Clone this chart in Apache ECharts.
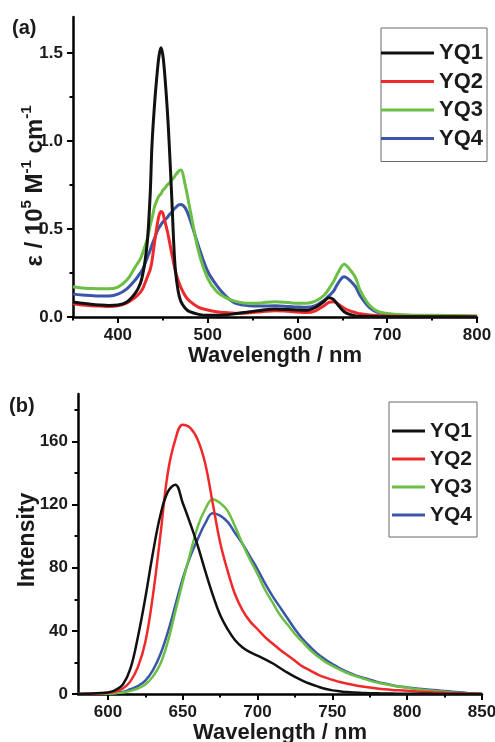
<!DOCTYPE html>
<html>
<head>
<meta charset="utf-8">
<script src="https://cdn.jsdelivr.net/npm/echarts@6/dist/echarts.min.js"></script>
<style>
html,body{margin:0;padding:0;background:#fff;}
#chart{width:495px;height:742px;}
</style>
</head>
<body>
<div id="chart"></div>
<script>
// ---------- data ----------
const seriesNames = ['YQ1', 'YQ2', 'YQ3', 'YQ4'];
const seriesColors = ['#111111', '#ee2a2a', '#6cbf45', '#3b55a8'];

// (a) absorption
const absWavelength = [350,360,370,380,390,400,410,420,425,428,430,433,436,438,441,444,446,448,450,452,455,457,460,462,464,467,470,475,480,490,500,510,520,530,540,550,560,575,590,600,610,620,630,635,640,645,652,660,665,670,680,690,700,720,750,800];
const absYQ1 = [0.085,0.078,0.072,0.068,0.066,0.068,0.085,0.14,0.19,0.25,0.31,0.44,0.70,0.98,1.22,1.40,1.49,1.53,1.49,1.39,1.18,1.00,0.68,0.44,0.27,0.15,0.09,0.05,0.03,0.015,0.01,0.01,0.012,0.018,0.025,0.032,0.038,0.045,0.042,0.04,0.038,0.055,0.09,0.11,0.10,0.07,0.03,0.012,0.006,0.004,0.003,0.002,0.002,0.001,0.001,0];
const absYQ2 = [0.075,0.068,0.064,0.062,0.060,0.064,0.08,0.115,0.14,0.165,0.19,0.23,0.27,0.32,0.43,0.53,0.58,0.60,0.59,0.55,0.49,0.44,0.36,0.31,0.26,0.21,0.17,0.12,0.09,0.055,0.04,0.03,0.025,0.022,0.022,0.025,0.03,0.036,0.032,0.028,0.025,0.035,0.065,0.083,0.087,0.075,0.05,0.032,0.025,0.018,0.012,0.008,0.005,0.003,0.002,0.001];
const absYQ3 = [0.172,0.165,0.162,0.160,0.160,0.17,0.21,0.29,0.33,0.37,0.40,0.45,0.52,0.56,0.63,0.67,0.69,0.70,0.72,0.73,0.75,0.76,0.78,0.79,0.805,0.825,0.835,0.75,0.62,0.37,0.22,0.145,0.11,0.09,0.08,0.078,0.08,0.087,0.082,0.078,0.078,0.09,0.125,0.16,0.20,0.25,0.30,0.26,0.22,0.15,0.068,0.03,0.02,0.012,0.01,0.005];
const absYQ4 = [0.13,0.125,0.122,0.12,0.12,0.13,0.16,0.215,0.25,0.275,0.30,0.34,0.38,0.41,0.45,0.49,0.51,0.525,0.54,0.55,0.565,0.58,0.595,0.61,0.62,0.635,0.64,0.62,0.56,0.40,0.26,0.18,0.12,0.08,0.068,0.062,0.062,0.064,0.06,0.057,0.055,0.065,0.097,0.12,0.145,0.19,0.229,0.20,0.17,0.12,0.055,0.025,0.015,0.01,0.008,0.004];

// (b) emission
const emWavelength = [580,585,590,595,600,605,610,615,620,625,630,635,640,645,650,655,660,665,670,675,680,685,690,695,700,705,710,715,720,725,730,735,740,745,750,755,760,765,770,775,780,785,790,795,800,805,810,815,820,825,830,835,840,845,850];
const emYQ1 = [0,0.1,0.3,0.6,1,2.5,6,16,36,61,89,113,128,132.5,121,108,94,78,63,50,41,34,29.5,26.5,24.3,22,19.5,16.5,13.5,10.8,8.5,6.5,4.8,3.3,2.3,1.7,1.2,0.9,0.7,0.5,0.4,0.3,0.25,0.2,0.15,0.12,0.1,0.08,0.06,0.05,0.04,0.03,0.02,0.01,0];
const emYQ2 = [0,0.1,0.2,0.4,0.8,1.5,3.5,8,17,33,62,100,140,161,170.5,168.5,161,146,121,96,78,63,53,46,41,36,32,28,24.5,21,17.5,15,12.5,10.5,9,7.6,6.5,5.6,4.8,4.1,3.5,3,2.6,2.3,2,1.7,1.4,1.2,1,0.8,0.6,0.4,0.3,0.15,0];
const emYQ3 = [0,0,0,0.1,0.2,0.5,1,2,3.5,6,11,19,33,52,71,89,106,117,123.4,121,116,106,95,85,76,66,58,50,44,38,33,28,24,20.5,17.8,15.5,13.3,11.5,10,8.5,7.3,6.3,5.4,4.6,3.9,3.3,2.7,2.2,1.8,1.4,1,0.7,0.4,0.2,0];
const emYQ4 = [0,0.05,0.1,0.2,0.3,0.7,1.3,3,5,8.5,15,25,39,56,73,87,98,108,114.5,113,109,102,95,87,79,70,62,55,48,41,35,30,25.5,22,19,16.2,14,12,10.5,9,7.7,6.6,5.6,4.8,4.2,3.6,3.1,2.7,2.3,1.9,1.5,1.1,0.7,0.35,0];

// tick values
const absMajorX = [400,500,600,700,800];
const absMinorX = [350,450,550,650,750];
const absMajorY = [0,0.5,1.0,1.5];
const absMinorY = [0.25,0.75,1.25];
const emMajorX = [600,650,700,750,800,850];
const emMinorX = [625,675,725,775,825];
const emMajorY = [0,40,80,120,160];
const emMinorY = [20,60,100,140,180];

// ---------- chart ----------
const FONT = '"Liberation Sans", Arial, Helvetica, sans-serif';
const TXT = '#1a1a1a';
const chart = echarts.init(document.getElementById('chart'), null, {renderer: 'canvas'});

function zip(xs, ys) { return xs.map((x, i) => [x, ys[i]]); }

function majorAxis(gridIndex, min, max, major, labelFmt, extra) {
  return Object.assign({
    type: 'value', gridIndex, min, max,
    axisLine: {show: true, onZero: false, lineStyle: {color: '#000', width: 2.5}},
    axisTick: {show: true, inside: false, length: 6, customValues: major, lineStyle: {color: '#000', width: 2}},
    axisLabel: {show: true, customValues: major, margin: 10, formatter: labelFmt,
      fontFamily: FONT, fontWeight: 'bold', fontSize: 17, color: TXT},
    splitLine: {show: false}
  }, extra || {});
}
function minorAxis(gridIndex, min, max, minor, position) {
  return {
    type: 'value', gridIndex, min, max, position,
    axisLine: {show: false, onZero: false},
    axisTick: {show: true, inside: false, length: 3.5, customValues: minor, lineStyle: {color: '#000', width: 2}},
    axisLabel: {show: false},
    splitLine: {show: false}
  };
}

const xTitle = {
  name: 'Wavelength / nm', nameLocation: 'middle', nameGap: 26,
  nameTextStyle: {fontFamily: FONT, fontWeight: 'bold', fontSize: 22, color: TXT}
};

const series = [];
const absData = [absYQ1, absYQ2, absYQ3, absYQ4];
const emData = [emYQ1, emYQ2, emYQ3, emYQ4];
seriesNames.forEach((n, i) => {
  series.push({
    name: n, type: 'line', xAxisIndex: 0, yAxisIndex: 0,
    data: zip(absWavelength, absData[i]), smooth: 0.35, symbol: 'none',
    lineStyle: {color: seriesColors[i], width: 3}, itemStyle: {color: seriesColors[i]}, z: 10 - i
  });
});
seriesNames.forEach((n, i) => {
  series.push({
    name: n, type: 'line', xAxisIndex: 2, yAxisIndex: 2,
    data: zip(emWavelength, emData[i]), smooth: 0.4, symbol: 'none',
    lineStyle: {color: seriesColors[i], width: 2.5}, itemStyle: {color: seriesColors[i]}, z: 10 - i
  });
});

const legendText = (size) => ({fontFamily: FONT, fontWeight: 'bold', fontSize: size, color: TXT, lineHeight: 22});

const option = {
  backgroundColor: '#fff',
  animation: false,
  grid: [
    {left: 73, right: 18, top: 17, bottom: 425, outerBoundsMode: 'none', containLabel: false},
    {left: 78, right: 13, top: 394, bottom: 48, outerBoundsMode: 'none', containLabel: false}
  ],
  xAxis: [
    majorAxis(0, 350, 800, absMajorX, v => String(v), Object.assign({position: 'bottom'}, xTitle)),
    minorAxis(0, 350, 800, absMinorX, 'bottom'),
    majorAxis(1, 580, 850, emMajorX, v => String(v), Object.assign({position: 'bottom'}, xTitle)),
    minorAxis(1, 580, 850, emMinorX, 'bottom')
  ],
  yAxis: [
    majorAxis(0, 0, 1.705, absMajorY, v => v.toFixed(1), {position: 'left'}),
    minorAxis(0, 0, 1.705, absMinorY, 'left'),
    majorAxis(1, 0, 190, emMajorY, v => String(v), {position: 'left'}),
    minorAxis(1, 0, 190, emMinorY, 'left')
  ],
  legend: [
    {
      data: seriesNames, orient: 'vertical', left: 381, top: 28,
      padding: [14, 4, 12, 0], itemGap: 6.5, itemWidth: 53, itemHeight: 3, icon: 'rect',
      borderColor: '#6a6a6a', borderWidth: 1, backgroundColor: '#fff',
      textStyle: legendText(22), selectedMode: false
    },
    {
      data: seriesNames, orient: 'vertical', left: 389, top: 402,
      padding: [18, 5, 11, 3], itemGap: 6, itemWidth: 33, itemHeight: 3, icon: 'rect',
      borderColor: '#6a6a6a', borderWidth: 1, backgroundColor: '#fff',
      textStyle: legendText(21), selectedMode: false
    }
  ],
  graphic: [
    {type: 'text', x: 12, y: 28, style: {text: '(a)', fontFamily: FONT, fontWeight: 'bold', fontSize: 20,
      fill: TXT, textVerticalAlign: 'middle', verticalAlign: 'middle'}},
    {type: 'text', x: 9, y: 406, style: {text: '(b)', fontFamily: FONT, fontWeight: 'bold', fontSize: 20,
      fill: TXT, textVerticalAlign: 'middle', verticalAlign: 'middle'}},
    {type: 'text', x: 33, y: 186, rotation: Math.PI / 2, style: {
      text: '{a|ε / 10}{s|5}{a| M}{s|-1}{a| cm}{s|-1}',
      textAlign: 'center', align: 'center', textVerticalAlign: 'middle', verticalAlign: 'middle',
      fill: TXT, fontFamily: FONT, fontWeight: 'bold', fontSize: 24,
      rich: {
        a: {fontFamily: FONT, fontWeight: 'bold', fontSize: 24, lineHeight: 28, verticalAlign: 'bottom', fill: TXT},
        s: {fontFamily: FONT, fontWeight: 'bold', fontSize: 15, lineHeight: 15, verticalAlign: 'top', fill: TXT}
      }
    }},
    {type: 'text', x: 28, y: 540, rotation: Math.PI / 2, style: {
      text: 'Intensity', textAlign: 'center', align: 'center', textVerticalAlign: 'middle', verticalAlign: 'middle',
      fill: TXT, fontFamily: FONT, fontWeight: 'bold', fontSize: 23
    }}
  ],
  series
};
chart.setOption(option);
</script>
</body>
</html>
